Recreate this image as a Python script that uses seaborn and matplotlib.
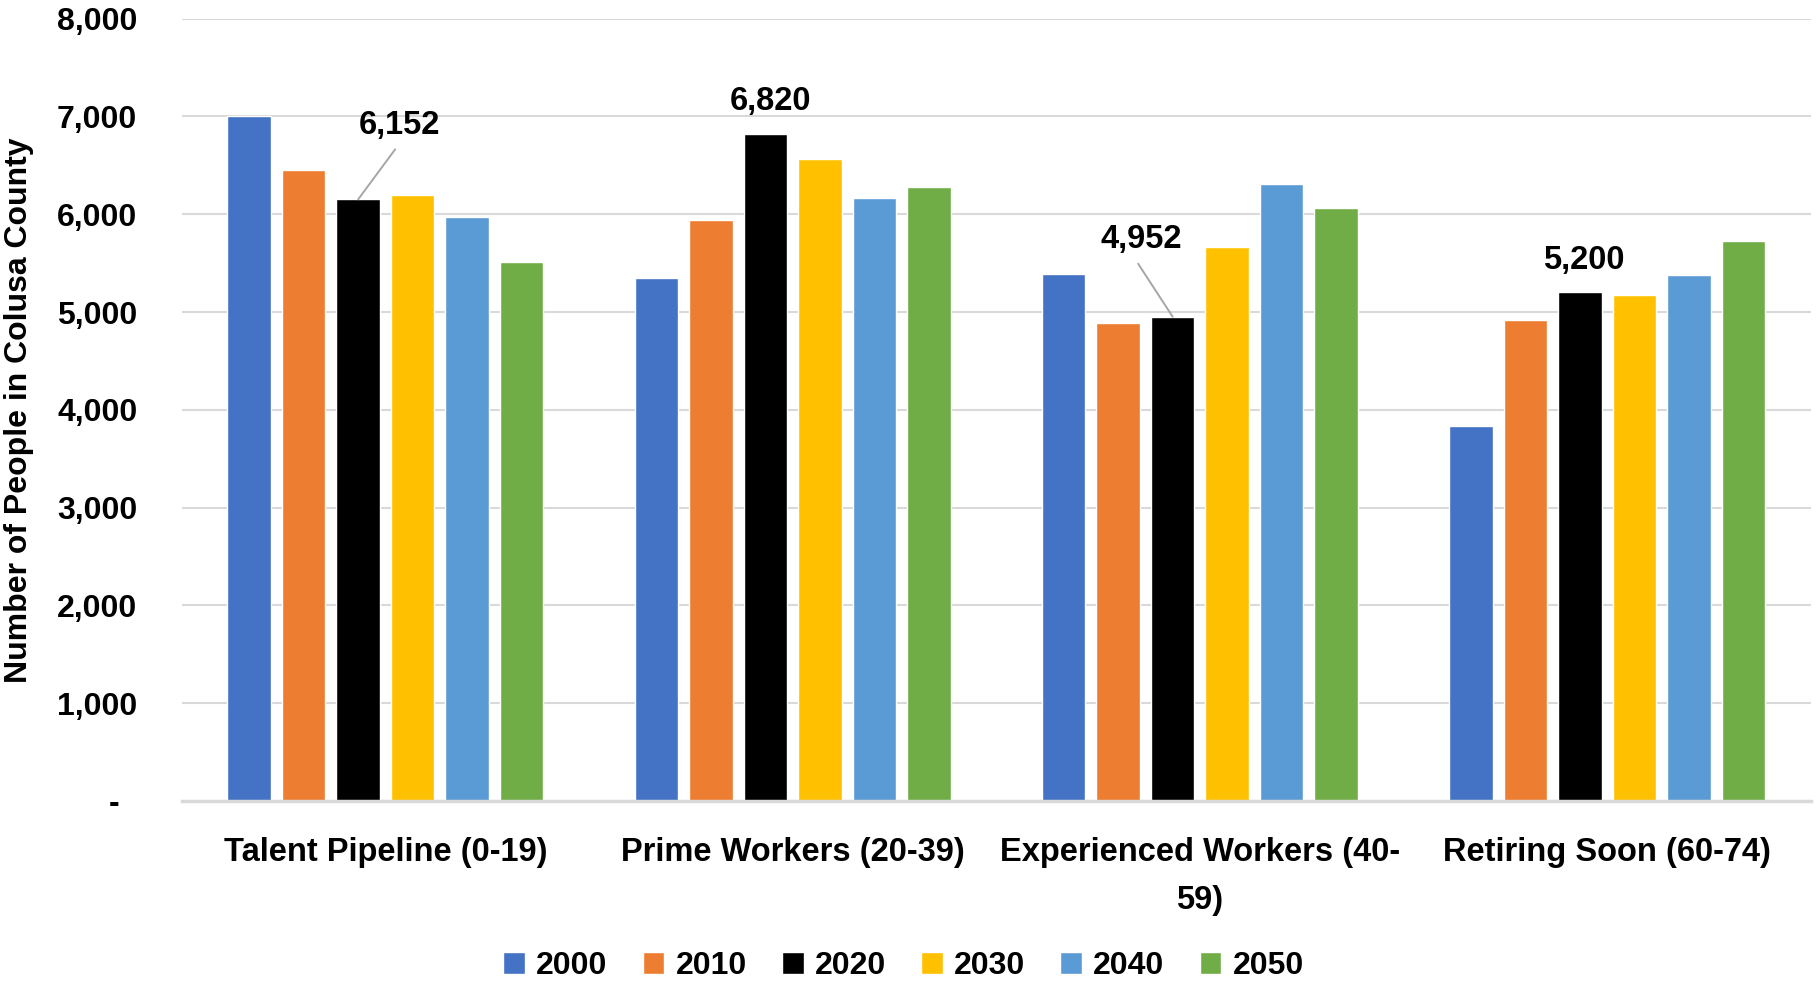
import matplotlib
matplotlib.use("Agg")
import matplotlib.pyplot as plt
import seaborn as sns
import pandas as pd
from matplotlib.ticker import FuncFormatter, MultipleLocator

categories = ["Talent Pipeline (0-19)", "Prime Workers (20-39)",
              "Experienced Workers (40-\n59)", "Retiring Soon (60-74)"]
years = ["2000", "2010", "2020", "2030", "2040", "2050"]
values_2000 = [7000, 5344, 5392, 3833]
values_2010 = [6450, 5936, 4888, 4915]
values_2020 = [6152, 6820, 4952, 5200]
values_2030 = [6194, 6560, 5661, 5171]
values_2040 = [5973, 6171, 6304, 5375]
values_2050 = [5508, 6280, 6064, 5722]
colors = ["#4472C4", "#ED7D31", "#000000", "#FFC000", "#5B9BD5", "#70AD47"]

series = [values_2000, values_2010, values_2020, values_2030, values_2040, values_2050]
rows = []
for y, vals in zip(years, series):
    for c, v in zip(categories, vals):
        rows.append({"category": c, "year": y, "people": v})
df = pd.DataFrame(rows)

sns.set_style("white")
plt.rcParams["font.family"] = ["Liberation Sans", "DejaVu Sans"]
plt.rcParams["font.weight"] = "bold"
plt.rcParams["text.color"] = "black"
plt.rcParams["axes.labelcolor"] = "black"
plt.rcParams["xtick.color"] = "black"
plt.rcParams["ytick.color"] = "black"

fig = plt.figure(figsize=(18.18, 9.81), dpi=100)
ax = fig.add_axes([0.100, 0.1835, 0.896, 0.7975])

sns.barplot(data=df, x="category", y="people", hue="year", order=categories,
            hue_order=years, palette=colors, width=0.803, gap=0.2,
            saturation=1, ax=ax, errorbar=None)

ax.set_ylim(0, 8000)
ax.set_xlim(-0.5, 3.5)
ax.yaxis.set_major_locator(MultipleLocator(1000))
ax.yaxis.set_major_formatter(FuncFormatter(lambda v, p: "-  " if v == 0 else f"{int(v):,}"))
ax.grid(axis="y", color="#d9d9d9", linewidth=1.5)
ax.set_axisbelow(True)
for s in ["top", "right", "left"]:
    ax.spines[s].set_visible(False)
ax.spines["bottom"].set_color("#d9d9d9")
ax.spines["bottom"].set_linewidth(2.5)
ax.tick_params(axis="y", length=0, labelsize=23, pad=32, colors="black")
ax.tick_params(axis="x", length=0, labelsize=23.5, pad=26, colors="black")
for lab in ax.get_xticklabels() + ax.get_yticklabels():
    lab.set_fontweight("bold")
    lab.set_linespacing(1.7)
ax.set_xlabel("")
ax.set_ylabel("Number of People in Colusa County", fontsize=23, fontweight="bold",
              color="black")
ax.yaxis.set_label_coords(-0.091, 0.5)

# annotations on 2020 bars
ncat = len(categories)
bars_2020 = ax.patches[2 * ncat: 3 * ncat]
px = 72.0 / 100.0
label_specs = [
    (0, (41, 73.5), (37, 50)),
    (1, (5, 32.7), None),
    (2, (-31.5, 77.5), (-34.5, 53)),
    (3, (4, 31.7), None),
]
for idx, toff, loff in label_specs:
    b = bars_2020[idx]
    xc = b.get_x() + b.get_width() / 2
    top = b.get_height()
    ax.annotate(f"{int(values_2020[idx]):,}", xy=(xc, top),
                xytext=(toff[0] * px, toff[1] * px), textcoords="offset points",
                ha="center", va="center", fontsize=23.5, fontweight="bold",
                color="black")
    if loff is not None:
        ax.annotate("", xy=(xc, top), xytext=(loff[0] * px, loff[1] * px),
                    textcoords="offset points",
                    arrowprops=dict(arrowstyle="-", color="#a6a6a6", lw=1.4,
                                    shrinkA=0, shrinkB=0))

handles, labels = ax.get_legend_handles_labels()
ax.get_legend().remove()
fig.legend(handles, labels, loc="center", bbox_to_anchor=(0.497, 0.0155), ncol=6,
           frameon=False, handlelength=0.68, handleheight=0.68, columnspacing=1.1,
           handletextpad=0.35, prop={"size": 23, "weight": "bold"})

fig.savefig("out.png", dpi=100)
